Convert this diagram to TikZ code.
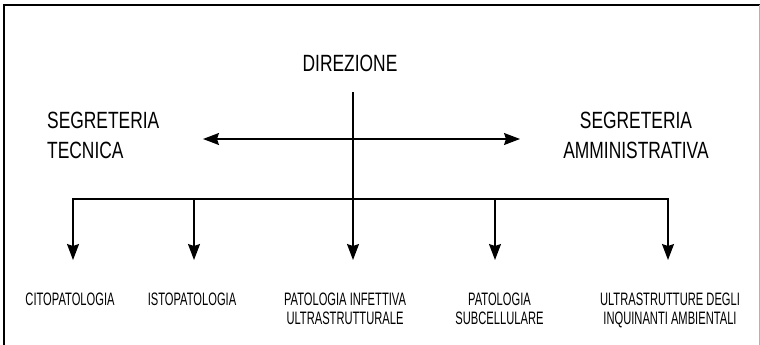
\documentclass[tikz,border=0pt]{standalone}
\usepackage{fontspec}
\setmainfont[FakeStretch=0.74]{Liberation Sans}
\newfontfamily\unitfont[FakeStretch=0.62]{Liberation Sans}
\usetikzlibrary{arrows.meta}

\begin{document}
\begin{tikzpicture}[x=1pt, y=-1pt]

    % --- Stili ---
    \tikzset{
        % testo in alto
        headtext/.style={
            font=\fontsize{23.5}{29.5}\selectfont,
            inner sep=0pt
        },
        % testo dei reparti
        unittext/.style={
            font=\unitfont\fontsize{18}{19}\selectfont,
            inner sep=0pt,
            anchor=north,
            align=center
        },
        % linee di collegamento
        link/.style={
            line width=1.4pt,
            >={Stealth[length=16pt, width=12pt, inset=2pt]}
        },
        % cornice
        frameline/.style={
            line width=2.5pt
        }
    }

    \useasboundingbox (0,0) rectangle (760,345);

    % --- Cornice ---
    \draw[frameline] (4,345) -- (4,5) -- (760,5);
    \draw[gray!60, line width=1pt] (759,5) -- (759,345);

    % --- 1. Testi ---
    \node[headtext] (dir) at (350,63) {DIREZIONE};
    \node[headtext, anchor=north west, align=left] (segtec) at (47,112) {SEGRETERIA\\TECNICA};
    \node[headtext, anchor=north, align=center] (segamm) at (636,112) {SEGRETERIA\\AMMINISTRATIVA};

    \node[unittext] (citopat) at (70,293) {CITOPATOLOGIA};
    \node[unittext] (istopat) at (192,293) {ISTOPATOLOGIA};
    \node[unittext] (patinf) at (345,293) {PATOLOGIA INFETTIVA\\ULTRASTRUTTURALE};
    \node[unittext] (patsub) at (499.5,293) {PATOLOGIA\\SUBCELLULARE};
    \node[unittext] (ultra) at (670,293) {ULTRASTRUTTURE DEGLI\\INQUINANTI AMBIENTALI};

    % --- 2. Punti di collegamento ---
    \coordinate (trunk) at (353,92);
    \coordinate (tecend) at (203,139);
    \coordinate (ammend) at (520,139);
    \coordinate (busleft) at (73,199);
    \coordinate (busright) at (668,199);
    \coordinate (busisto) at (194,199);
    \coordinate (bussub) at (495,199);

    \coordinate (tipcito) at (73,260);
    \coordinate (tipisto) at (194,260);
    \coordinate (tipinf) at (353,260);
    \coordinate (tipsub) at (495,260);
    \coordinate (tipultra) at (668,260);

    % --- 3. Frecce ---
    % segreterie
    \draw[link, <->] (tecend) -- (ammend);

    % linea principale verso il centro
    \draw[link, ->] (trunk) -- (tipinf);

    % linea orizzontale e reparti
    \draw[link, ->] (busisto) -- (busleft) -- (tipcito);
    \draw[link, ->] (busisto) -- (tipisto);
    \draw[link, ->] (busleft) -- (busright) -- (tipultra);
    \draw[link, ->] (bussub) -- (tipsub);

\end{tikzpicture}
\end{document}
